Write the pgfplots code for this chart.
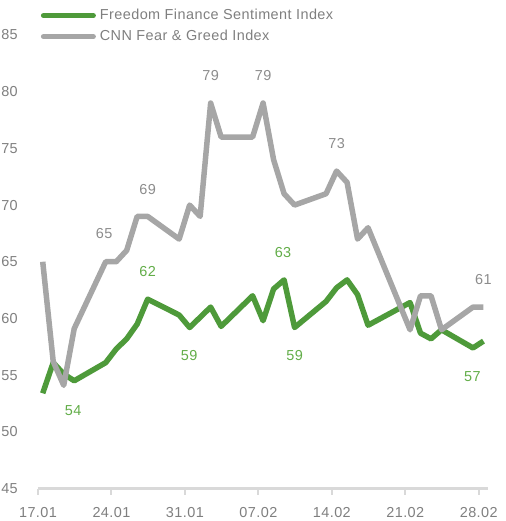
\documentclass[border=0pt]{standalone}
\usepackage{fontspec}
\setmainfont{Liberation Sans}[LetterSpace=3]
\usepackage{pgfplots}
\pgfplotsset{compat=1.18}

\definecolor{ffgreen}{HTML}{4E9A3A}
\definecolor{ffgreentxt}{HTML}{62AD48}
\definecolor{cnngray}{HTML}{A6A6A6}
\definecolor{cnntxt}{HTML}{8C8C8C}
\definecolor{axgray}{HTML}{D9D9D9}
\definecolor{lbl}{HTML}{7F7F7F}
\newcommand\lblfont{\fontsize{14.5}{16}\selectfont}

% day 0 = 17.01
\pgfplotstableread{
d v
0 53.4
1 56.1
2 55.1
3 54.5
6 56.1
7 57.3
8 58.2
9 59.5
10 61.7
13 60.3
14 59.2
16 61.0
17 59.3
20 62.0
21 59.8
22 62.6
23 63.4
24 59.2
27 61.5
28 62.7
29 63.4
30 62.1
31 59.4
35 61.4
36 58.7
37 58.2
38 59.0
41 57.4
42 58.0
}\ffsi

\pgfplotstableread{
d v
0 65
1 56.2
2 54.1
3 59.1
6 65
7 65
8 66
9 69
10 69
13 67
14 70
15 69
16 79
17 76
20 76
21 79
22 74
23 71
24 70
27 71
28 73
29 72
30 67
31 68
35 59
36 62
37 62
38 59
41 61
42 61
}\cnnfg

\begin{document}
\begin{tikzpicture}
\path[use as bounding box] (-38bp,-32.5bp) rectangle (468bp,488.5bp);
\begin{axis}[
  at={(0,0)}, anchor=south west, scale only axis,
  width=450bp, height=453.5bp,
  xmin=-0.45, xmax=42.43, ymin=45, ymax=85,
  clip=false,
  axis lines=left,
  axis line style={-},
  x axis line style={axgray, line width=2bp},
  y axis line style={draw=none},
  xtick={-0.45,6.55,13.55,20.55,27.55,34.55,41.55},
  xticklabels={17.01,24.01,31.01,07.02,14.02,21.02,28.02},
  ytick={45,50,...,85},
  tick align=outside,
  major tick length=6bp,
  xtick style={axgray, line width=2bp},
  ytick style={draw=none},
  tick label style={font=\lblfont, text=lbl},
  xticklabel style={inner sep=0pt, anchor=north, yshift=-13bp},
  yticklabel style={inner sep=0pt, anchor=east, xshift=-14bp},
  /pgf/number format/assume math mode=true,
  legend cell align=left,
  legend style={draw=none, fill=none, font=\lblfont, text=lbl,
    at={(0.006,1.0596)}, anchor=north west,
    inner sep=0pt, row sep=6bp, column sep=3bp,
    nodes={inner sep=1bp, text height=10bp, text depth=3bp}},
  legend image code/.code={\draw[#1, line width=5bp, line cap=round] (2.5bp,0bp) -- (52.5bp,0bp);},
]
\addplot[ffgreen, line width=5.5bp, line join=round] table[x=d, y=v] {\ffsi};
\addlegendentry{Freedom Finance Sentiment Index}
\addplot[cnngray, line width=5.5bp, line join=round] table[x=d, y=v] {\cnnfg};
\addlegendentry{CNN Fear \& Greed Index}

\node[text=cnntxt, font=\lblfont] at (axis cs:5.86,67.5) {65};
\node[text=cnntxt, font=\lblfont] at (axis cs:10.0,71.4) {69};
\node[text=cnntxt, font=\lblfont] at (axis cs:16.0,81.4) {79};
\node[text=cnntxt, font=\lblfont] at (axis cs:21.0,81.4) {79};
\node[text=cnntxt, font=\lblfont] at (axis cs:28.0,75.4) {73};
\node[text=cnntxt, font=\lblfont] at (axis cs:42.0,63.4) {61};

\node[text=ffgreentxt, font=\lblfont] at (axis cs:2.9,51.9) {54};
\node[text=ffgreentxt, font=\lblfont] at (axis cs:10.0,64.1) {62};
\node[text=ffgreentxt, font=\lblfont] at (axis cs:13.96,56.7) {59};
\node[text=ffgreentxt, font=\lblfont] at (axis cs:22.9,65.8) {63};
\node[text=ffgreentxt, font=\lblfont] at (axis cs:24.0,56.7) {59};
\node[text=ffgreentxt, font=\lblfont] at (axis cs:40.95,54.9) {57};
\end{axis}
\end{tikzpicture}
\end{document}
